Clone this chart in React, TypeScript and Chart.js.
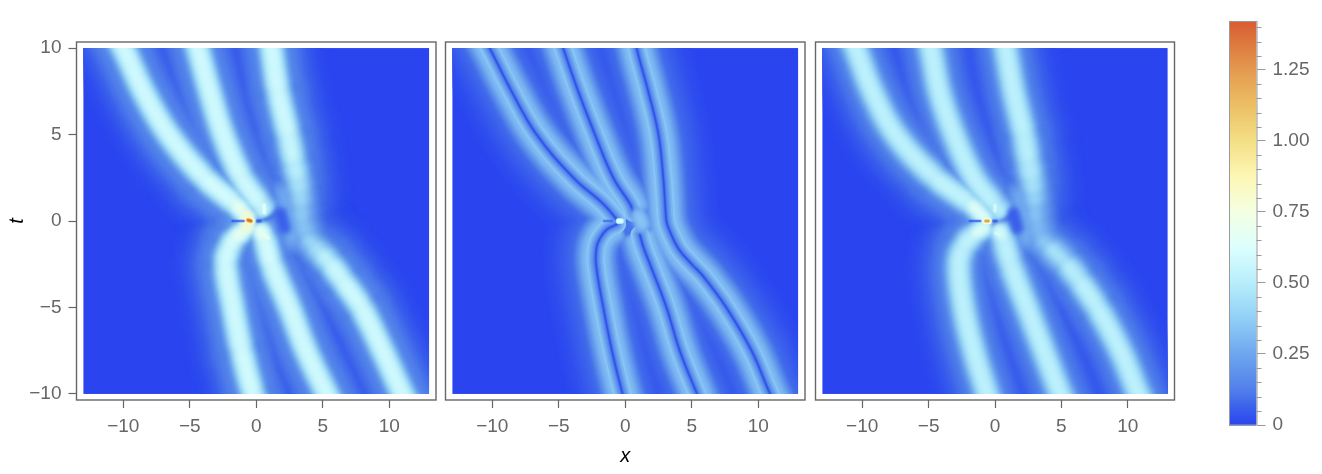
import React, { useEffect, useRef } from "react";
import { Chart, registerables } from "chart.js";

Chart.register(...registerables);

// ---------- data ----------
const xTicks = [-10, -5, 0, 5, 10];
const tTicks = [-10, -5, 0, 5, 10];
const colorbarMajor = [0, 0.25, 0.5, 0.75, 1.0, 1.25];
const colorbarMinor = [0.05, 0.1, 0.15, 0.2, 0.3, 0.35, 0.4, 0.45, 0.55, 0.6, 0.65, 0.7, 0.8, 0.85, 0.9, 0.95, 1.05, 1.1, 1.15, 1.2, 1.3, 1.35, 1.4];
const colorbarMax = 1.4225;

// colour scale: value, colour
const scaleValues = [0, 0.06, 0.12, 0.25, 0.375, 0.5, 0.625, 0.75, 0.875, 1.0, 1.125, 1.25, 1.4225];
const scaleColors = ["#2a45f0", "#3a5fec", "#4f7eea", "#6ea6ef", "#92cff6", "#b7eefb", "#dcfffe", "#f4ffe2", "#fdf7b4", "#f4df86", "#ecbf64", "#e49a50", "#d95c30"];

// ridge centre lines: t, x, peak value along the ridge
const p1At = [13, 10, 7.5, 5, 2.5, 1, 0.4, 0];
const p1Ax = [-12.1, -10.0, -8.5, -6.6, -3.9, -1.6, -0.9, -0.5];
const p1Ap = [0.62, 0.62, 0.62, 0.62, 0.62, 0.65, 0.8, 1.0];
const p1Bt = [13, 10, 7.5, 5, 2.5, 1, 0.5];
const p1Bx = [-5.5, -4.4, -3.5, -2.5, -1.1, 0.26, 0.65];
const p1Bp = [0.62, 0.62, 0.62, 0.62, 0.62, 0.6, 0.55];
const p1Ct = [13, 10, 7.5, 5, 3.5, 2.5, 1.75, 1, 0, -1, -1.5, -1.9, -2.5, -3.5, -5, -7.5, -10, -13];
const p1Cx = [0.5, 1.14, 1.64, 2.4, 2.8, 3.1, 3.25, 3.35, 3.45, 3.9, 4.4, 4.9, 5.6, 6.55, 7.9, 9.5, 11.0, 13.0];
const p1Cp = [0.62, 0.62, 0.62, 0.6, 0.56, 0.5, 0.45, 0.4, 0.34, 0.38, 0.45, 0.5, 0.58, 0.61, 0.62, 0.62, 0.62, 0.62];
const p1Dt = [-0.4, -1, -2.5, -5, -7.5, -10, -13];
const p1Dx = [0.2, 0.6, 1.14, 2.5, 3.75, 5.3, 7.2];
const p1Dp = [0.8, 0.66, 0.62, 0.62, 0.62, 0.62, 0.62];
const p1Et = [-0.1, -0.5, -1, -1.5, -2.5, -5, -7.5, -10, -13];
const p1Ex = [-0.5, -0.87, -1.6, -2.0, -2.3, -1.75, -1.1, -0.25, 1.0];
const p1Ep = [1.0, 0.8, 0.66, 0.63, 0.62, 0.62, 0.62, 0.63, 0.63];

const p2At = [13, 10, 7.5, 5, 2.5, 1, 0.1];
const p2Ax = [-12.3, -10.2, -8.55, -6.67, -3.9, -1.67, -0.65];
const p2Bt = [13, 10, 7.5, 5, 2.5, 1, 0.5];
const p2Bx = [-6.0, -4.67, -3.54, -2.28, -0.9, 0.35, 0.6];
const p2Ct = [13, 10, 7.5, 5, 2.5, 1, 0, -0.5, -1.6, -2.5, -3.2, -5, -7.5, -10, -13];
const p2Cx = [0.1, 0.86, 1.73, 2.5, 2.86, 3.0, 3.1, 3.3, 4.0, 5.0, 5.87, 7.6, 9.5, 10.9, 12.8];
const p2Dt = [-0.8, -1.5, -2.5, -5, -7.5, -10, -13];
const p2Dx = [1.1, 1.36, 1.86, 3.1, 4.1, 5.4, 7.0];
const p2Et = [-0.2, -0.5, -1, -1.5, -2.5, -5, -7.5, -10, -13];
const p2Ex = [-0.65, -1.4, -1.9, -2.15, -2.2, -1.65, -1.0, -0.2, 0.9];

const p3At = [13, 10, 7.5, 5, 2.5, 1, 0];
const p3Ax = [-12.1, -10.5, -9.25, -7.5, -4.5, -1.85, -0.6];
const p3Ap = [0.55, 0.55, 0.55, 0.55, 0.55, 0.58, 0.74];
const p3Bt = [13, 10, 7.5, 5, 2.5, 1, 0.4];
const p3Bx = [-5.8, -4.85, -4.2, -3.1, -1.6, -0.1, 0.5];
const p3Bp = [0.55, 0.55, 0.55, 0.55, 0.55, 0.55, 0.5];
const p3Ct = [13, 10, 7.5, 5, 3.5, 2.5, 1.75, 1, 0, -1, -1.5, -2.5, -3.5, -5, -7.5, -10, -13];
const p3Cx = [0.1, 0.8, 1.4, 2.17, 2.5, 2.75, 2.9, 3.0, 3.1, 3.5, 4.1, 5.4, 6.4, 7.7, 9.45, 10.8, 12.6];
const p3Cp = [0.55, 0.55, 0.55, 0.55, 0.53, 0.5, 0.44, 0.38, 0.32, 0.34, 0.4, 0.5, 0.54, 0.55, 0.55, 0.55, 0.55];
const p3Dt = [-0.4, -1, -2.5, -5, -7.5, -10, -13];
const p3Dx = [0.2, 0.6, 1.17, 2.42, 3.67, 4.93, 6.6];
const p3Dp = [0.68, 0.56, 0.55, 0.55, 0.55, 0.55, 0.55];
const p3Et = [-0.3, -0.8, -1.5, -2.5, -5, -7.5, -10, -13];
const p3Ex = [-0.6, -1.6, -2.37, -2.74, -2.37, -1.6, -0.6, 0.6];
const p3Ep = [0.72, 0.58, 0.55, 0.55, 0.55, 0.55, 0.55, 0.55];

// small features around the origin: x0,t0,x1,t1,value,width
const p1Hot = [[-0.62, 0.05, -0.4, 0, 1.42, 3.2], [2.2, 1.6, 2.8, -1.0, 0.28, 16], [0.6, 0.9, 0.6, 0.5, 0.7, 3.5], [0.6, -0.8, 0.9, -1.0, 0.7, 3.5]];
const p1Dark = [[-1.8, 0, -0.95, 0, 0.04, 3], [0.1, 0, 0.3, 0, 0.05, 4], [1.85, 0.45, 2.15, -0.4, 0.03, 14]];
const p2Hot = [[1.0, 0.3, 1.3, -0.2, 0.37, 10], [-0.5, 0, -0.3, 0, 0.68, 3.5]];
const p2Dark = [[-1.6, 0, -1.0, 0, 0.08, 3]];
const p3Hot = [[-0.7, 0, -0.5, 0, 1.3, 2.8], [1.9, 1.5, 2.4, -1.0, 0.28, 16], [0, 0.9, 0, 0.6, 0.62, 4], [0.1, -0.7, 0.3, -0.8, 0.62, 4]];
const p3Dark = [[-1.9, 0, -1.1, 0, 0.04, 3], [-0.1, 0, 0.1, 0, 0.05, 4], [1.4, 0.45, 1.7, -0.4, 0.03, 14]];

// ---------- helpers ----------
const levels = [0.012, 0.024, 0.036, 0.048, 0.06, 0.075, 0.09, 0.105, 0.12, 0.14, 0.16, 0.18, 0.2, 0.23, 0.26, 0.29, 0.32, 0.35, 0.38, 0.41, 0.44, 0.47, 0.5, 0.53, 0.56, 0.59, 0.62, 0.66, 0.7, 0.75, 0.8, 0.86, 0.92, 1.0, 1.08, 1.16, 1.24, 1.32, 1.4];

function hex(c: string) {
  return [1, 3, 5].map((i) => parseInt(c.slice(i, i + 2), 16));
}
function colorOf(v: number) {
  let i = 0;
  while (i < scaleValues.length - 2 && v > scaleValues[i + 1]) i++;
  const f = Math.min(1, Math.max(0, (v - scaleValues[i]) / (scaleValues[i + 1] - scaleValues[i])));
  const a = hex(scaleColors[i]);
  const b = hex(scaleColors[i + 1]);
  return `rgb(${a.map((q, k) => Math.round(q + (b[k] - q) * f)).join(",")})`;
}

type Ridge = { t: number[]; x: number[]; p: number[] | number };

function pts(r: Ridge) {
  return r.t.map((t, i) => ({ x: r.x[i], y: t }));
}
function peakAt(r: Ridge, i: number) {
  return Array.isArray(r.p) ? r.p[i] : r.p;
}

// half widths in pixels for a value v on a ridge of peak p (higher peaks are narrower)
function halfWidth(v: number, p: number, core: number, tail: number, hollow: number, p0: number) {
  if (v >= p) return 0;
  const w = core * (p > p0 ? Math.pow(p0 / p, 2) : Math.pow(p0 / p, 0.5));
  const s = w * Math.acosh(Math.sqrt(p / v));
  const tp = 0.35 * p;
  const l = v < tp ? tail * Math.sqrt(Math.log(tp / v)) : 0;
  return hollow + Math.max(s, l);
}

const CLIP = { left: -7, right: -7, top: -6, bottom: -6 };

function ridgeDatasets(ridges: Ridge[], core: number, tail: number, hollow: number, blur: number, p0: number) {
  const out: any[] = [];
  levels.forEach((v, li) => {
    ridges.forEach((r) => {
      const color = colorOf(v);
      const width = (i: number) => 2 * halfWidth(v, peakAt(r, i), core, tail, hollow, p0);
      out.push({
        type: "line",
        data: pts(r),
        parsing: false,
        borderColor: color,
        borderWidth: Math.max(width(0), 0.01),
        borderCapStyle: v < 0.12 ? "round" : "butt",
        borderJoinStyle: "round",
        pointRadius: 0,
        tension: 0.4,
        clip: CLIP,
        order: 1000 - li,
        blur,
        segment: {
          borderColor: (c: any) => (v < Math.max(peakAt(r, c.p0DataIndex), peakAt(r, c.p1DataIndex)) ? color : "rgba(0,0,0,0)"),
          borderWidth: (c: any) => Math.max(0.01, (width(c.p0DataIndex) + width(c.p1DataIndex)) / 2),
        },
      });
    });
  });
  return out;
}

// dark centre line inside a hollow ridge (second panel)
function hollowDatasets(ridges: Ridge[], peak: number, hollow: number) {
  const out: any[] = [];
  const steps = [1, 0.86, 0.72, 0.6, 0.48, 0.36, 0.26, 0.16, 0.08];
  steps.forEach((f, i) => {
    ridges.forEach((r) => {
      out.push({
        type: "line",
        data: pts(r),
        parsing: false,
        borderColor: colorOf(peak * f),
        borderWidth: 2 * hollow * Math.pow(f, 1.7) + 0.8,
        borderCapStyle: "round",
        pointRadius: 0,
        tension: 0.4,
        clip: CLIP,
        order: 500 - i,
        blur: 0.5,
      });
    });
  });
  return out;
}

function spotDatasets(spots: number[][], baseOrder: number, minFrac: number) {
  const out: any[] = [];
  levels.forEach((v, li) => {
    spots.forEach(([x0, t0, x1, t1, val, scale]) => {
      if (v < val && v > val * minFrac) {
        out.push({
          type: "line",
          data: [{ x: x0, y: t0 }, { x: x1, y: t1 }],
          parsing: false,
          borderColor: colorOf(v),
          borderWidth: 2 * scale * Math.acosh(Math.sqrt(val / v)) + 0.5,
          borderCapStyle: "round",
          pointRadius: 0,
          clip: CLIP,
          order: baseOrder - li,
          blur: scale > 8 ? 2.5 : 0.7,
        });
      }
    });
  });
  return out;
}

function darkDatasets(spots: number[][]) {
  const out: any[] = [];
  [1, 0.8, 0.62, 0.46, 0.32, 0.2].forEach((w, i) => {
    spots.forEach(([x0, t0, x1, t1, val, width]) => {
      out.push({
        type: "line",
        data: [{ x: x0, y: t0 }, { x: x1, y: t1 }],
        parsing: false,
        borderColor: colorOf(val).replace("rgb", "rgba").replace(")", ",0.28)"),
        borderWidth: w * width,
        borderCapStyle: "round",
        pointRadius: 0,
        clip: CLIP,
        order: 100 - i,
        blur: width > 8 ? 2 : 0.6,
      });
    });
  });
  return out;
}

const GREY = "#666666";
const FONT = { family: "'Liberation Sans', Arial, sans-serif", size: 19 };
const fmt = (v: number) => (v < 0 ? "\u2212" + Math.abs(v) : String(v));

const panelPlugin = {
  id: "panel",
  beforeDatasetsDraw(chart: any) {
    const { ctx, scales } = chart;
    const l = scales.x.getPixelForValue(-13);
    const r = scales.x.getPixelForValue(13);
    const t = scales.y.getPixelForValue(10);
    const b = scales.y.getPixelForValue(-10);
    ctx.save();
    ctx.fillStyle = scaleColors[0];
    ctx.fillRect(l, t, r - l, b - t);
    ctx.restore();
  },
  beforeDatasetDraw(chart: any, args: any) {
    const b = chart.data.datasets[args.index].blur;
    chart.ctx.filter = b ? `blur(${b}px)` : "none";
  },
  afterDatasetDraw(chart: any) {
    chart.ctx.filter = "none";
  },
  afterDraw(chart: any) {
    const { ctx, chartArea: a } = chart;
    ctx.save();
    ctx.strokeStyle = GREY;
    ctx.lineWidth = 1.4;
    ctx.strokeRect(a.left, a.top, a.right - a.left, a.bottom - a.top);
    ctx.restore();
  },
};

function panelConfig(datasets: any[], opts: { left: number; right: number; yAxis: boolean; xTitle: boolean }) {
  return {
    type: "line",
    data: { datasets },
    plugins: [panelPlugin],
    options: {
      responsive: false,
      animation: false,
      events: [],
      layout: { padding: { left: opts.left, right: opts.right, top: 42, bottom: 0 } },
      plugins: { legend: { display: false }, tooltip: { enabled: false } },
      scales: {
        x: {
          type: "linear",
          min: -13.52,
          max: 13.52,
          afterBuildTicks: (s: any) => {
            s.ticks = xTicks.map((value) => ({ value }));
          },
          afterFit: (s: any) => {
            s.height = 74;
          },
          ticks: { color: GREY, font: FONT, padding: 7, maxRotation: 0, autoSkip: false, callback: (v: number) => fmt(v) },
          grid: { drawOnChartArea: false, drawTicks: true, tickLength: 8, tickColor: GREY, tickWidth: 1.2 },
          border: { display: false },
          title: {
            display: opts.xTitle,
            text: "x",
            color: "#000",
            font: { family: "'Liberation Sans', Arial, sans-serif", size: 20, style: "italic" },
            padding: { top: 0, bottom: 6 },
          },
        },
        y: {
          type: "linear",
          display: opts.yAxis,
          min: -10.35,
          max: 10.35,
          afterBuildTicks: (s: any) => {
            s.ticks = tTicks.map((value) => ({ value }));
          },
          afterFit: (s: any) => {
            s.width = opts.left === 0 ? 76.5 : s.width;
          },
          ticks: { color: GREY, font: FONT, padding: 7, autoSkip: false, callback: (v: number) => fmt(v) },
          grid: { drawOnChartArea: false, drawTicks: true, tickLength: 8, tickColor: GREY, tickWidth: 1.2 },
          border: { display: false },
          title: {
            display: opts.yAxis,
            text: "t",
            color: "#000",
            font: { family: "'Liberation Sans', Arial, sans-serif", size: 20, style: "italic" },
            padding: { top: 5, bottom: 5 },
          },
        },
      },
    },
  };
}

const minorTicksPlugin = {
  id: "minor",
  afterDraw(chart: any) {
    const { ctx, chartArea: a, scales } = chart;
    ctx.save();
    ctx.strokeStyle = "#999";
    ctx.lineWidth = 1;
    ctx.beginPath();
    colorbarMinor.forEach((v) => {
      const y = Math.round(scales.y.getPixelForValue(v)) + 0.5;
      ctx.moveTo(a.right, y);
      ctx.lineTo(a.right + 5, y);
    });
    ctx.moveTo(a.left + 0.5, a.top);
    ctx.lineTo(a.left + 0.5, a.bottom);
    ctx.moveTo(a.right + 0.5, a.top);
    ctx.lineTo(a.right + 0.5, a.bottom);
    ctx.moveTo(a.left, a.top + 0.5);
    ctx.lineTo(a.right, a.top + 0.5);
    ctx.moveTo(a.left, a.bottom + 0.5);
    ctx.lineTo(a.right, a.bottom + 0.5);
    ctx.stroke();
    ctx.restore();
  },
};

function colorbarConfig() {
  return {
    type: "bar",
    data: {
      labels: ["value"],
      datasets: [
        {
          data: [[0, colorbarMax]],
          barPercentage: 1,
          categoryPercentage: 1,
          backgroundColor: (c: any) => {
            const a = c.chart.chartArea;
            if (!a) return scaleColors[0];
            const g = c.chart.ctx.createLinearGradient(0, a.bottom, 0, a.top);
            scaleValues.forEach((v, i) => g.addColorStop(v / colorbarMax, scaleColors[i]));
            return g;
          },
        },
      ],
    },
    plugins: [minorTicksPlugin],
    options: {
      responsive: false,
      animation: false,
      events: [],
      layout: { padding: { left: 39, right: 0, top: 21, bottom: 49 } },
      plugins: { legend: { display: false }, tooltip: { enabled: false } },
      scales: {
        x: { display: false },
        y: {
          position: "right",
          min: 0,
          max: colorbarMax,
          afterBuildTicks: (s: any) => {
            s.ticks = colorbarMajor.map((value) => ({ value }));
          },
          afterFit: (s: any) => {
            s.width = 65.5;
          },
          ticks: {
            color: GREY,
            font: FONT,
            padding: 7,
            autoSkip: false,
            callback: (v: number) => (v === 0 ? "0" : v.toFixed(2)),
          },
          grid: { drawOnChartArea: false, drawTicks: true, tickLength: 9, tickColor: "#999", tickWidth: 1 },
          border: { display: false },
        },
      },
    },
  };
}

const panel1Ridges: Ridge[] = [
  { t: p1At, x: p1Ax, p: p1Ap },
  { t: p1Bt, x: p1Bx, p: p1Bp },
  { t: p1Ct, x: p1Cx, p: p1Cp },
  { t: p1Dt, x: p1Dx, p: p1Dp },
  { t: p1Et, x: p1Ex, p: p1Ep },
];
const panel2Ridges: Ridge[] = [
  { t: p2At, x: p2Ax, p: 0.34 },
  { t: p2Bt, x: p2Bx, p: 0.34 },
  { t: p2Ct, x: p2Cx, p: 0.34 },
  { t: p2Dt, x: p2Dx, p: 0.34 },
  { t: p2Et, x: p2Ex, p: 0.34 },
];
const panel3Ridges: Ridge[] = [
  { t: p3At, x: p3Ax, p: p3Ap },
  { t: p3Bt, x: p3Bx, p: p3Bp },
  { t: p3Ct, x: p3Cx, p: p3Cp },
  { t: p3Dt, x: p3Dx, p: p3Dp },
  { t: p3Et, x: p3Ex, p: p3Ep },
];

export default function App() {
  const c1 = useRef<HTMLCanvasElement>(null);
  const c2 = useRef<HTMLCanvasElement>(null);
  const c3 = useRef<HTMLCanvasElement>(null);
  const c4 = useRef<HTMLCanvasElement>(null);
  useEffect(() => {
    const charts = [
      new Chart(
        c1.current as any,
        panelConfig(
          [...ridgeDatasets(panel1Ridges, 11, 30, 0.5, 3, 0.62), ...spotDatasets(p1Hot, 1000, 0), ...darkDatasets(p1Dark)],
          { left: 0, right: 5, yAxis: true, xTitle: false }
        ) as any
      ),
      new Chart(
        c2.current as any,
        panelConfig(
          [
            ...ridgeDatasets(panel2Ridges, 10, 28, 9, 2, 0.34),
            ...hollowDatasets(panel2Ridges, 0.34, 9),
            ...spotDatasets(p2Hot, 400, 0.6),
            ...darkDatasets(p2Dark),
          ],
          { left: 4.5, right: 5, yAxis: false, xTitle: true }
        ) as any
      ),
      new Chart(
        c3.current as any,
        panelConfig(
          [...ridgeDatasets(panel3Ridges, 12, 30, 0.5, 3, 0.55), ...spotDatasets(p3Hot, 1000, 0), ...darkDatasets(p3Dark)],
          { left: 5.5, right: 5.5, yAxis: false, xTitle: false }
        ) as any
      ),
      new Chart(c4.current as any, colorbarConfig() as any),
    ];
    return () => charts.forEach((c) => c.destroy());
  }, []);
  const box = (left: number, width: number, ref: any) => (
    <canvas ref={ref} width={width} height={474} style={{ position: "absolute", left, top: 0, width, height: 474 }} />
  );
  return (
    <div style={{ position: "fixed", left: 0, top: 0, width: 1322, height: 474, background: "#fff" }}>
      {box(0, 441, c1)}
      {box(441, 369, c2)}
      {box(810, 370, c3)}
      {box(1190, 132, c4)}
    </div>
  );
}
